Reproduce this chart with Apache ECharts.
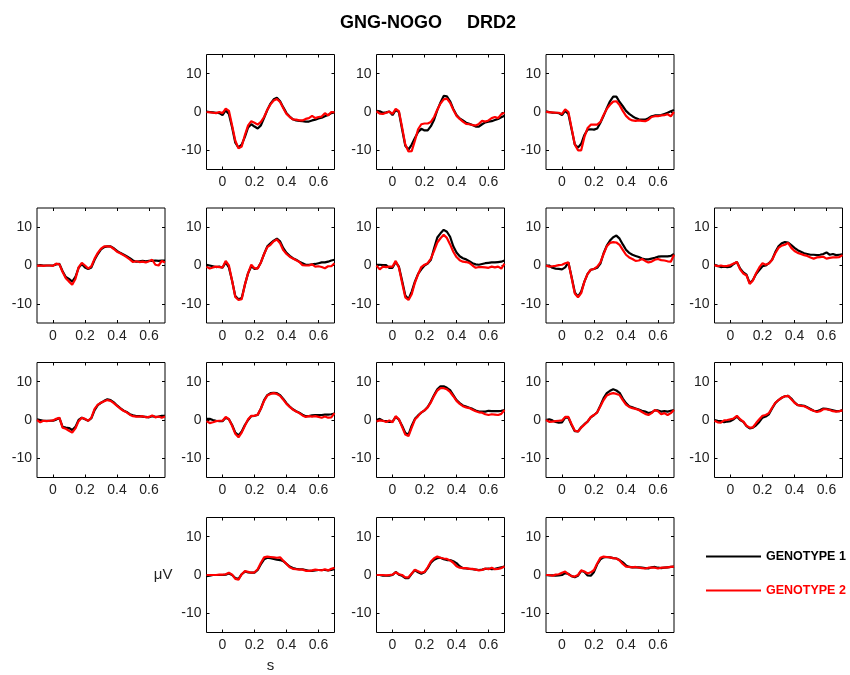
<!DOCTYPE html>
<html><head><meta charset="utf-8">
<script src="https://cdn.jsdelivr.net/npm/echarts@6/dist/echarts.min.js"></script>
<style>html,body{margin:0;padding:0;background:#fff}#c{width:850px;height:675px}</style>
</head><body><div id="c"></div><script>
// sample times (s)
const time = [-0.1,-0.08,-0.06,-0.04,-0.02,0,0.02,0.04,0.06,0.08,0.1,0.12,0.14,0.16,0.18,0.2,0.22,0.24,0.26,0.28,0.3,0.32,0.34,0.36,0.38,0.4,0.42,0.44,0.46,0.48,0.5,0.52,0.54,0.56,0.58,0.6,0.62,0.64,0.66,0.68,0.7];
const xTicks = [0, 0.2, 0.4, 0.6];
const yTicks = [-10, 0, 10];
const groupNames = ['GENOTYPE 1', 'GENOTYPE 2'];
const titleText = 'GNG-NOGO     DRD2';
const xName = 's';
const yName = 'μV';

// amplitude (µV), genotype 1 (black) and genotype 2 (red), panel by panel
const p1_g1 = [0.1,0,-0.1,-0.2,-0.3,-0.8,0.4,-0.5,-4,-8,-9.3,-8.5,-6.5,-4,-3.2,-3.8,-4.3,-3.5,-1.5,0.5,2.2,3.3,3.7,2.8,1.2,-0.3,-1.2,-1.9,-2.2,-2.3,-2.4,-2.5,-2.5,-2.2,-2,-1.7,-1.5,-1.1,-0.8,-0.3,-0.1];
const p1_g2 = [0,-0.1,-0.2,-0.3,0,-0.3,0.9,0.3,-3.5,-7.5,-9.5,-9,-6,-3.5,-2.4,-2.8,-3.3,-2.6,-1.3,0.6,2,3,3.4,2.6,1,-0.5,-1.3,-1.9,-2,-2.2,-2.2,-1.8,-1.6,-1,-1.6,-1.3,-1.2,-0.3,-0.9,0,-0.1];
const p2_g1 = [0.3,0.2,-0.2,-0.1,0.1,-0.8,0.5,0,-4.5,-8.8,-9.8,-8.5,-6.8,-5.2,-4.4,-4.8,-4.8,-3.7,-2,0.5,2.5,4.2,4.1,2.8,0.8,-0.8,-1.7,-2.2,-2.8,-3.1,-3.4,-3.8,-3.8,-3.2,-2.7,-2.5,-2.4,-2.1,-1.8,-1.4,-1];
const p2_g2 = [0.2,-0.4,-0.5,-0.2,0.1,-0.5,0.8,0.2,-4,-8.5,-10.3,-10.2,-7.5,-4.5,-3.2,-3,-3,-2.6,-1.3,0.6,2.2,3.3,3.5,2.4,0.6,-1,-1.8,-2.5,-3.1,-3.2,-3.4,-3.5,-3.1,-2.3,-2.5,-2.2,-1.6,-1.3,-1.6,-0.6,-0.2];
const p3_g1 = [0.2,0,-0.2,-0.2,-0.3,-0.8,0.3,-0.5,-4.5,-8.5,-9.3,-8.3,-6,-4.6,-4.5,-4.6,-4.3,-2.8,-1,1,2.8,4,4,2.6,1.5,0.3,-0.5,-1.1,-1.6,-1.9,-2,-2,-1.6,-1.1,-0.9,-0.9,-0.8,-0.5,-0.2,0.2,0.5];
const p3_g2 = [0.1,-0.1,-0.1,-0.2,-0.2,-0.5,0.7,0,-4.2,-8.5,-10,-10,-6.5,-4.2,-3.3,-3.3,-3.3,-2.6,-0.8,0.8,1.9,2.7,2.8,1.8,0.3,-1,-1.8,-2.2,-2.3,-2.2,-2.3,-2.4,-2,-1.3,-1.1,-1.1,-0.9,-0.8,-0.6,-1.1,0];
const p4_g1 = [0,0.1,0,0,0,0,0.3,0.4,-1.5,-3,-3.5,-4.2,-3,-0.6,0.4,-0.5,-0.9,-0.5,1.5,3,4.2,4.8,5,5,4.5,3.8,3.3,2.9,2.4,1.9,1.3,1,1.1,1.2,1.1,1.2,1.2,1.3,1.2,1.3,1.3];
const p4_g2 = [-0.1,0,-0.1,0,0,-0.1,0.5,0.3,-1.7,-3.3,-4.2,-5,-3.5,-0.5,0.7,0,-0.8,-0.2,1.8,3.3,4.4,5,5,4.9,4.3,3.6,3.2,2.7,2.2,1.6,0.9,1.1,0.9,1,0.8,1.1,1.5,0.2,0,1.2,0.8];
const p5_g1 = [0.2,0,-0.2,-0.4,-0.3,-0.6,0.8,-0.5,-4,-8,-8.8,-8.5,-5,-2,-0.2,-0.9,-0.7,0.8,3,5,5.8,6.5,7,6.3,4.5,3.3,2.5,1.9,1.5,1,0.6,0.2,0.2,0.3,0.4,0.6,0.8,0.8,1,1.3,1.5];
const p5_g2 = [-0.3,-0.8,-0.5,-0.3,-0.4,-0.5,1.2,0,-4,-8.2,-9,-8.8,-5,-2,0.2,-0.7,-0.8,0.8,3,4.8,5.4,6.3,6.8,5.8,4,3,2.3,1.8,1.4,0.9,0.1,0,0,0.3,-0.3,-0.2,-0.4,-0.7,-0.2,-0.2,0.6];
const p6_g1 = [0.2,0.2,0.1,0.1,-0.6,-0.6,0.9,-0.3,-4,-7.8,-8.8,-6.8,-4.2,-2.2,-1,0,0.5,1.5,4.5,7.3,8.4,9.3,8.8,7.5,5,3.4,2.4,1.9,1.6,1.1,0.6,0.3,0.2,0.4,0.6,0.7,0.8,0.8,0.9,1,1.3];
const p6_g2 = [0,-1,-0.3,-0.4,-0.3,-0.3,1.2,-0.5,-4.5,-8.3,-9,-7.5,-4.5,-2.3,-0.4,0.2,0.6,1.8,3.8,6,7.1,8,7.2,5.5,3.6,2.2,1.4,1,0.9,0.7,0,-0.6,-0.4,-0.4,-0.5,-0.6,-0.3,-0.5,-0.3,-0.8,0.5];
const p7_g1 = [0,0,-0.6,-0.8,-0.9,-1,-0.5,0.8,-3,-7,-8.1,-6.8,-4.2,-2.2,-1.1,-0.9,-0.6,0.5,3.2,5.2,6.5,7.4,7.8,7,5.5,4.1,3.3,2.8,2.5,2.2,1.8,1.6,1.6,1.8,2,2.3,2.4,2.4,2.4,2.5,3];
const p7_g2 = [0,-0.3,-0.2,-0.1,0.1,0.2,0.6,0.8,-3.2,-7.3,-8.3,-7.2,-4.2,-2.2,-1.1,-0.9,-0.3,0.8,3,5,5.9,6.1,6,5.4,4.1,2.8,2.1,1.7,1.2,1.3,1.7,1.2,0.8,1,1.5,1.7,1.4,1.3,1.1,1,2.8];
const p8_g1 = [0.2,-0.1,-0.4,-0.3,-0.4,-0.3,0.4,0.9,-0.8,-1.8,-2.4,-4.6,-3.8,-2.2,-1.2,-0.2,0,0.6,1.5,3.5,5,5.8,6.1,6,5.3,4.6,4,3.6,3.2,3,2.8,2.8,2.7,2.8,3,3.4,2.8,3,2.7,2.8,2.9];
const p8_g2 = [0.1,-0.2,0,-0.2,-0.1,0.1,0.5,0.9,-1,-2.1,-2.6,-4.8,-3.9,-2,-0.5,0.6,0.2,0.5,1.5,3.2,4.6,5.2,5.4,5.9,4.6,3.8,3.3,3,2.7,2.5,2.1,1.8,2.1,2.2,2.3,1.8,2,2.1,2.1,2.2,2.7];
const p9_g1 = [0.2,0,-0.2,-0.2,-0.2,-0.2,0.1,0.5,-1.8,-2,-2.1,-2.6,-1.8,0,0.6,0.2,-0.2,0.5,2.6,3.9,4.5,5,5.4,5.2,4.6,3.8,3.1,2.5,2.1,1.5,1.2,1,1,0.9,0.8,0.7,1,0.8,0.9,1.1,1.1];
const p9_g2 = [0,-0.6,-0.2,-0.3,-0.2,-0.1,0.3,0.6,-2,-2.3,-2.8,-3.3,-2.2,-0.3,0.6,0.3,-0.2,0.6,2.9,4,4.5,4.9,5.2,5,4.4,3.7,3,2.4,2,1.4,1,0.9,0.9,1,0.7,0.8,1.2,0.7,0.9,0.6,0.9];
const p10_g1 = [0.3,0.3,0,-0.2,-0.3,-0.3,0.6,0.2,-1.3,-3.3,-4,-3,-1.3,0,1,1.1,1.3,3,5.2,6.5,7,7.1,7,6.5,5.5,4.4,3.5,2.8,2.3,1.9,1.4,1,1,1.2,1.3,1.3,1.3,1.4,1.4,1.5,1.7];
const p10_g2 = [-0.3,-0.8,-0.6,-0.3,-0.2,-0.2,0.8,0.2,-1.5,-3.6,-4.5,-3.3,-1.5,0.2,1.1,1.1,1.4,3,5,6.4,6.8,7,6.8,6.3,5.3,4.2,3.4,2.7,2.2,1.8,1.2,0.8,1,0.9,1,0.8,0.6,0.9,0.6,0.7,1.8];
const p11_g1 = [0,0.3,-0.2,-0.3,-0.5,-0.4,0.8,0.1,-1.5,-3.4,-3.8,-1.5,0.3,1.2,1.9,2.5,3.4,4.8,6.5,8,8.8,8.8,8.4,7.8,6.5,5.2,4.4,3.8,3.5,3.2,2.9,2.5,2.2,2.2,2.2,2.4,2.3,2.3,2.3,2.4,2.6];
const p11_g2 = [-0.4,-0.1,-0.2,-0.5,-0.1,-0.6,1,0.2,-1.8,-3.8,-4.2,-2,0.1,1,2,2.5,3.3,4.6,6.3,7.7,8.3,8.3,8,7.3,6.2,5,4.2,3.6,3.3,3.1,2.7,2.3,2,1.9,1.5,1.3,1.5,1.4,1.3,1.6,2.6];
const p12_g1 = [0,0.2,-0.1,-0.5,-0.7,-0.6,0.6,0.6,-1.3,-2.9,-3,-1.9,-1.1,-0.4,0.7,1.3,2,3.8,5.7,7,7.6,8,7.7,7.1,5.6,4.4,3.6,3.3,3,2.7,2.4,2.2,1.8,2,2.5,2.5,2.2,2.3,2.2,2.4,2.6];
const p12_g2 = [0,-0.5,-0.4,-0.3,-0.2,-0.1,0.8,0.8,-1.1,-2.8,-3,-2,-1.2,-0.4,0.8,1.3,2,3.6,5.2,6.4,6.8,7,6.8,6.5,5.2,4,3.4,3.1,2.9,2.6,2.1,1.6,1.3,1.8,2.6,2.3,1.5,1.8,1.3,1.8,2.6];
const p13_g1 = [0,-0.2,-0.3,-0.6,-0.4,-0.3,0.2,0.9,0,-0.5,-1.6,-2.2,-2,-1.4,-0.5,0.6,0.9,1.5,3,4.4,5.2,5.8,6.2,6.3,5.6,4.6,3.9,3.8,3.7,3.3,2.9,2.4,2.3,2.6,3,2.9,2.7,2.5,2.3,2.3,2.6];
const p13_g2 = [-0.2,-0.6,-0.7,-0.1,0,0.2,0.4,1.1,0.2,-0.4,-1.5,-2,-1.9,-0.8,0.2,1.1,1.3,1.8,3.2,4.5,5.2,5.8,6.2,6.3,5.4,4.5,3.9,3.7,3.6,3.2,2.7,2.4,2.1,2.3,2.8,2.8,2.6,2.3,2.2,2.3,2.5];
const p14_g1 = [-0.3,-0.2,0,0,0,0,0.1,0.4,0,-0.8,-1,0.2,0.9,0.7,0.6,0.6,1.3,2.8,4.1,4.5,4.4,4.2,4,3.9,3.6,2.9,2.2,1.8,1.6,1.5,1.5,1.3,1.1,1.1,1.2,1.3,1.3,1.3,1.2,1.3,1.6];
const p14_g2 = [0,0,0,0,0.1,0.1,0.2,0.6,0.1,-1,-1.2,0.2,1,0.8,0.6,0.7,1.5,3.2,4.6,4.8,4.7,4.6,4.5,4.6,3.7,2.9,2,1.6,1.5,1.4,1.4,1.1,1.1,1.2,1.4,1.3,1.2,1.5,1.2,1.6,1.9];
const p15_g1 = [0,0,-0.2,-0.2,-0.2,0,0.8,0.1,-0.2,-0.8,-0.8,0.3,1.3,0.7,0.3,0.7,1.8,3.2,4,4.4,4.5,4.1,3.9,3.9,3.6,3.1,2.3,1.8,1.7,1.6,1.5,1.4,1.3,1.4,1.6,1.7,1.5,1.6,1.8,2,2.2];
const p15_g2 = [0,0,0,-0.1,0,0.1,0.7,0.2,0,-0.6,-0.6,0.4,1.4,1,0.6,0.8,2,3.5,4.4,4.8,4.5,4.3,4.2,3.8,3.2,2.3,1.9,1.8,1.8,1.6,1.6,1.4,1.2,1.3,1.7,1.5,1.9,1.5,1.6,1.8,2.2];
const p16_g1 = [0,-0.1,-0.1,-0.2,-0.1,0,0.5,0.3,-0.3,-0.6,-0.2,1.1,0.8,-0.1,-0.2,0.8,2.8,4.1,4.6,4.7,4.6,4.4,4.3,3.9,3.3,2.5,2.1,2,2,2,1.9,1.8,1.7,2,2.1,1.9,1.8,1.9,2,2.1,2.2];
const p16_g2 = [0,0,-0.2,0.1,0.2,0.6,0.9,0.2,-0.3,-0.4,0,1.2,0.9,0.4,0.7,1.3,3,4.5,4.8,4.7,4.6,4.4,4.3,3.8,2.9,2.2,2.1,2,2.1,1.9,1.8,1.7,1.9,1.9,1.9,1.7,1.9,1.9,2,2.1,2.2];

const panelData = [
  [p1_g1,p1_g2],[p2_g1,p2_g2],[p3_g1,p3_g2],
  [p4_g1,p4_g2],[p5_g1,p5_g2],[p6_g1,p6_g2],[p7_g1,p7_g2],[p8_g1,p8_g2],
  [p9_g1,p9_g2],[p10_g1,p10_g2],[p11_g1,p11_g2],[p12_g1,p12_g2],[p13_g1,p13_g2],
  [p14_g1,p14_g2],[p15_g1,p15_g2],[p16_g1,p16_g2]
];

// layout (row, column) of each panel
const layout = [[0,1],[0,2],[0,3],[1,0],[1,1],[1,2],[1,3],[1,4],[2,0],[2,1],[2,2],[2,3],[2,4],[3,1],[3,2],[3,3]];
const colLeft = [37, 206.5, 376.5, 546, 714.5];
const rowTop = [54.5, 208, 362.5, 517.5];
const PW = 128, PH = 115;
const FONT = '"Liberation Sans", Arial, sans-serif';
const colors = ['#000000', '#ff0000'];
const labelPanel = 13;

const grid = [], xAxis = [], yAxis = [], series = [];
layout.forEach(([r, c], i) => {
  grid.push({left: colLeft[c], top: rowTop[r], width: PW, height: PH, show: true,
    borderColor: '#000', borderWidth: 1, backgroundColor: '#fff', containLabel: false});
  const tickStyle = {show: true, inside: true, length: 3, lineStyle: {color: '#000', width: 1}};
  const noLine = {show: false, onZero: false};
  xAxis.push({type: 'value', gridIndex: i, min: -0.1, max: 0.7, position: 'bottom',
    axisLine: noLine, splitLine: {show: false},
    axisTick: Object.assign({customValues: xTicks}, tickStyle),
    axisLabel: {customValues: xTicks, margin: 6, fontSize: 14, color: '#222', fontFamily: FONT,
      formatter: v => String(Math.round(v * 10) / 10)},
    name: i === labelPanel ? xName : '', nameLocation: 'middle', nameGap: 26,
    nameTextStyle: {fontSize: 15, color: '#222', fontFamily: FONT}});
  xAxis.push({type: 'value', gridIndex: i, min: -0.1, max: 0.7, position: 'top',
    axisLine: noLine, splitLine: {show: false},
    axisTick: Object.assign({customValues: xTicks}, tickStyle), axisLabel: {show: false}});
  yAxis.push({type: 'value', gridIndex: i, min: -15, max: 15, position: 'left',
    axisLine: noLine, splitLine: {show: false},
    axisTick: Object.assign({customValues: yTicks}, tickStyle),
    axisLabel: {customValues: yTicks, margin: 5, fontSize: 14, color: '#222', fontFamily: FONT},
    name: i === labelPanel ? yName : '', nameLocation: 'middle', nameRotate: 0, nameGap: 34,
    nameTextStyle: {fontSize: 15, color: '#222', fontFamily: FONT, align: 'right', padding: [6, 0, 0, 0]}});
  yAxis.push({type: 'value', gridIndex: i, min: -15, max: 15, position: 'right',
    axisLine: noLine, splitLine: {show: false},
    axisTick: Object.assign({customValues: yTicks}, tickStyle), axisLabel: {show: false}});
  panelData[i].forEach((vals, g) => {
    series.push({type: 'line', name: groupNames[g], xAxisIndex: 2 * i, yAxisIndex: 2 * i,
      data: time.map((t, k) => [t, vals[k]]), showSymbol: false, symbol: 'none',
      lineStyle: {color: colors[g], width: 2.2}, itemStyle: {color: colors[g]},
      z: 2 + g, animation: false});
  });
});

const chart = echarts.init(document.getElementById('c'), null, {renderer: 'canvas'});
chart.setOption({
  animation: false,
  backgroundColor: '#fff',
  title: {text: titleText, left: 423, top: 9, textAlign: 'center',
    textStyle: {fontSize: 18, fontWeight: 'bold', color: '#000', fontFamily: FONT}},
  legend: {
    data: [{name: groupNames[0], textStyle: {color: colors[0]}}, {name: groupNames[1], textStyle: {color: colors[1]}}],
    orient: 'vertical', left: 701, top: 544.5, itemWidth: 55, itemHeight: 2, itemGap: 20, icon: 'rect',
    selectedMode: false,
    textStyle: {fontSize: 12.5, fontWeight: 'bold', fontFamily: FONT, lineHeight: 14}
  },
  grid, xAxis, yAxis, series
});
</script></body></html>
